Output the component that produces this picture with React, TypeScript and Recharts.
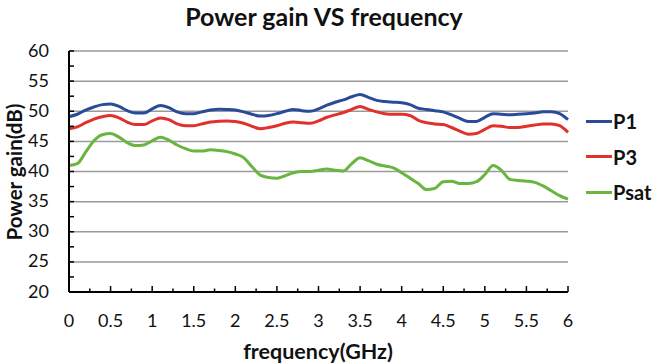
import React from 'react';
import { LineChart, Line, XAxis, YAxis, ReferenceLine } from 'recharts';

const FREQ = [0, 0.1, 0.2, 0.3, 0.4, 0.5, 0.6, 0.7, 0.8, 0.9, 1.0, 1.1, 1.2, 1.3, 1.4, 1.5, 1.6, 1.7, 1.8, 1.9, 2.0, 2.1, 2.2, 2.3, 2.4, 2.5, 2.6, 2.7, 2.8, 2.9, 3.0, 3.1, 3.2, 3.3, 3.4, 3.5, 3.6, 3.7, 3.8, 3.9, 4.0, 4.1, 4.2, 4.3, 4.4, 4.5, 4.6, 4.7, 4.8, 4.9, 5.0, 5.1, 5.2, 5.3, 5.4, 5.5, 5.6, 5.7, 5.8, 5.9, 6.0];

const P1 = [49.1, 49.5, 50.2, 50.7, 51.1, 51.2, 50.8, 50.1, 49.7, 49.7, 50.4, 50.95, 50.6, 49.9, 49.6, 49.6, 49.9, 50.2, 50.35, 50.3, 50.2, 49.9, 49.5, 49.2, 49.3, 49.6, 50.0, 50.3, 50.1, 50.0, 50.4, 51.0, 51.5, 51.9, 52.4, 52.8, 52.3, 51.8, 51.6, 51.5, 51.4, 51.1, 50.5, 50.3, 50.1, 49.9, 49.4, 48.8, 48.3, 48.3, 49.0, 49.6, 49.5, 49.4, 49.5, 49.6, 49.7, 49.9, 49.9, 49.6, 48.6];

const P3 = [47.1, 47.4, 48.1, 48.7, 49.1, 49.3, 48.9, 48.2, 47.8, 47.8, 48.4, 48.9, 48.6, 47.9, 47.6, 47.6, 47.9, 48.2, 48.35, 48.4, 48.3, 48.0, 47.5, 47.1, 47.3, 47.6, 48.0, 48.2, 48.1, 48.0, 48.4, 49.0, 49.4, 49.8, 50.3, 50.8, 50.3, 49.9, 49.6, 49.5, 49.5, 49.3, 48.5, 48.1, 47.9, 47.8, 47.3, 46.7, 46.2, 46.3, 47.0, 47.6, 47.5, 47.3, 47.3, 47.5, 47.7, 47.9, 47.9, 47.6, 46.5];

const PSAT = [41.0, 41.3, 43.2, 45.1, 46.1, 46.3, 45.7, 44.8, 44.3, 44.4, 45.1, 45.7, 45.2, 44.4, 43.8, 43.4, 43.4, 43.6, 43.5, 43.3, 42.9, 42.3, 40.8, 39.4, 39.0, 38.9, 39.3, 39.8, 40.0, 40.0, 40.2, 40.4, 40.2, 40.1, 41.3, 42.3, 41.8, 41.2, 40.9, 40.6, 39.8, 38.9, 38.0, 37.0, 37.2, 38.3, 38.4, 38.0, 38.0, 38.3, 39.5, 41.0, 40.2, 38.7, 38.5, 38.4, 38.2, 37.6, 36.8, 36.0, 35.4];

const X_TICKS = [0, 0.25, 0.5, 0.75, 1, 1.25, 1.5, 1.75, 2, 2.25, 2.5, 2.75, 3, 3.25, 3.5, 3.75, 4, 4.25, 4.5, 4.75, 5, 5.25, 5.5, 5.75, 6];
const Y_TICKS = [20, 22.5, 25, 27.5, 30, 32.5, 35, 37.5, 40, 42.5, 45, 47.5, 50, 52.5, 55, 57.5, 60];
const GRID_VALUES = [25, 30, 35, 40, 45, 50, 55, 60];

const SERIES = [
  { key: 'P1', name: 'P1', color: '#2A4A9A', values: P1 },
  { key: 'P3', name: 'P3', color: '#E0312C', values: P3 },
  { key: 'Psat', name: 'Psat', color: '#6AB440', values: PSAT },
];

const data = FREQ.map((f, i) => {
  const row: Record<string, number> = { f };
  SERIES.forEach((s) => {
    row[s.key] = s.values[i];
  });
  return row;
});

const FONT = 'Lato, "Noto Sans", sans-serif';

const isMajor = (v: number, step: number) => Math.abs(v / step - Math.round(v / step)) < 1e-6;

const XTick = (props: any) => {
  const { x, y, payload } = props;
  const v = payload.value as number;
  const major = isMajor(v, 0.5);
  return (
    <g>
      {v !== 0 && (
        <line x1={x} x2={x} y1={y} y2={y - (major ? 6 : 3.5)} stroke="#000" strokeWidth={1.5} />
      )}
      {major && (
        <text x={x} y={y + 30} textAnchor="middle" dominantBaseline="middle" fontSize={18} fill="#111" fontFamily={FONT}>
          {String(v)}
        </text>
      )}
    </g>
  );
};

const YTick = (props: any) => {
  const { x, y, payload } = props;
  const v = payload.value as number;
  const major = isMajor(v, 5);
  return (
    <g>
      {v !== 20 && <line x1={x} x2={x + 5} y1={y} y2={y} stroke="#000" strokeWidth={1.5} />}
      {major && (
        <text x={x - 20} y={y + 1} textAnchor="end" dominantBaseline="middle" fontSize={18} fill="#111" fontFamily={FONT}>
          {String(v)}
        </text>
      )}
    </g>
  );
};

export default function App() {
  return (
    <div style={{ position: 'absolute', left: 0, top: 0, width: 657, height: 364, background: '#fff', fontFamily: FONT }}>
      <LineChart width={657} height={364} data={data} margin={{ top: 51, right: 89, bottom: 42, left: 0 }}>
        {GRID_VALUES.map((g) => (
          <ReferenceLine key={g} y={g} stroke="#9a9a9a" strokeWidth={1.5} ifOverflow="extendDomain" />
        ))}
        <XAxis
          dataKey="f"
          type="number"
          domain={[0, 6]}
          ticks={X_TICKS}
          interval={0}
          height={30}
          tickSize={0}
          tickMargin={0}
          tickLine={false}
          axisLine={{ stroke: '#000', strokeWidth: 2 }}
          tick={<XTick />}
        />
        <YAxis
          type="number"
          domain={[20, 60]}
          ticks={Y_TICKS}
          interval={0}
          width={69}
          tickSize={0}
          tickMargin={0}
          tickLine={false}
          axisLine={{ stroke: '#000', strokeWidth: 2 }}
          tick={<YTick />}
        />
        {SERIES.map((s) => (
          <Line
            key={s.key}
            dataKey={s.key}
            name={s.name}
            type="monotone"
            stroke={s.color}
            strokeWidth={3}
            dot={false}
            isAnimationActive={false}
          />
        ))}
      </LineChart>
      <div
        style={{
          position: 'absolute',
          left: 324,
          top: 16,
          transform: 'translate(-50%, -50%)',
          whiteSpace: 'nowrap',
          fontWeight: 700,
          fontSize: 25,
          lineHeight: '30px',
          color: '#111',
        }}
      >
        Power gain VS frequency
      </div>
      <div
        style={{
          position: 'absolute',
          left: 318,
          top: 351,
          transform: 'translate(-50%, -50%)',
          whiteSpace: 'nowrap',
          fontWeight: 700,
          fontSize: 21.5,
          lineHeight: '26px',
          color: '#111',
        }}
      >
        frequency(GHz)
      </div>
      <div
        style={{
          position: 'absolute',
          left: 14,
          top: 172,
          transform: 'translate(-50%, -50%) rotate(-90deg)',
          whiteSpace: 'nowrap',
          fontWeight: 700,
          fontSize: 20.5,
          lineHeight: '24px',
          color: '#111',
        }}
      >
        Power gain(dB)
      </div>
      {SERIES.map((s, i) => (
        <div key={s.key} style={{ position: 'absolute', left: 586, top: 121 + i * 35.5 - 14, height: 28, display: 'flex', alignItems: 'center' }}>
          <div style={{ width: 26, height: 3, background: s.color }} />
          <span style={{ fontWeight: 700, fontSize: 20, color: '#111', marginLeft: 1 }}>{s.name}</span>
        </div>
      ))}
    </div>
  );
}
